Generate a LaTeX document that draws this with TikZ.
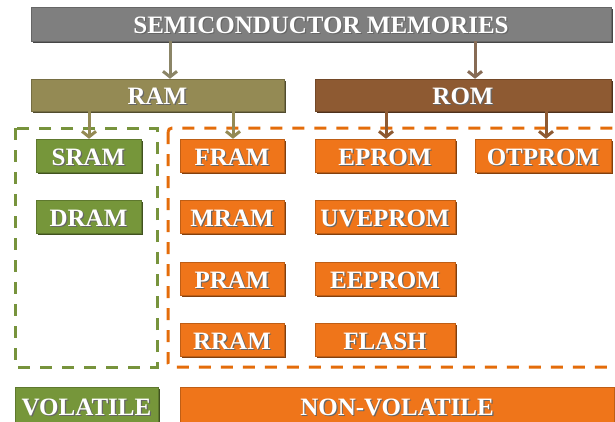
\documentclass[tikz,border=0pt]{standalone}
\usepackage{fontspec}
\setmainfont{Liberation Serif}
\usetikzlibrary{arrows.meta,shadows}
\definecolor{memgray}{RGB}{127,127,127}
\definecolor{ramolive}{RGB}{148,138,84}
\definecolor{rombrown}{RGB}{142,90,50}
\definecolor{nvorange}{RGB}{239,117,26}
\definecolor{volgreen}{RGB}{118,150,58}
\definecolor{dashgreen}{RGB}{119,147,60}
\definecolor{dashorange}{RGB}{228,108,10}
% white label with a soft dark drop shadow behind it
\newcommand\sh[1]{\makebox[0pt][l]{\kern1.2pt\smash{\raisebox{-1.2pt}{\color{black!60}#1}}}#1}
\begin{document}
\begin{tikzpicture}[x=1pt,y=-1pt,
  membox/.style={fill=#1, draw=#1!80!black, line width=0.5pt, text=white,
    font=\bfseries\fontsize{25}{25}\selectfont, inner sep=0pt,
    text height=19.5pt, text depth=0pt,
    drop shadow={shadow xshift=1.5pt, shadow yshift=-2pt, fill=#1!55!black, opacity=1}},
  arr/.style={draw=#1, line width=3pt, -{Straight Barb[length=5.5pt,width=14pt]}},
  zone/.style={draw=#1, line width=3pt, dash pattern=on 12pt off 10pt}]
\clip (0,0) rectangle (615,421);
\fill[white] (0,0) rectangle (615,421);

% dashed groupings
\draw[zone=dashgreen] (15,128) rectangle (157,367);
\draw[zone=dashorange, rounded corners=4pt] (168,128) rectangle (640,367);

% top levels
\node[membox=memgray, minimum width=580pt, minimum height=34pt] (top) at (321,24) {\sh{SEMICONDUCTOR MEMORIES}};
\node[membox=ramolive, minimum width=253pt, minimum height=32pt] (ram) at (157.5,95) {\sh{RAM}};
\node[membox=rombrown, minimum width=296pt, minimum height=32pt] (rom) at (463,95) {\sh{ROM}};

% volatile RAM
\node[membox=volgreen, minimum width=105pt, minimum height=33pt] (sram) at (88.5,155.5) {\sh{SRAM}};
\node[membox=volgreen, minimum width=105pt, minimum height=33pt] (dram) at (88.5,216.5) {\sh{DRAM}};

% non-volatile RAM
\node[membox=nvorange, minimum width=104pt, minimum height=33pt] (fram) at (232,155.5) {\sh{FRAM}};
\node[membox=nvorange, minimum width=104pt, minimum height=33pt] (mram) at (232,216.5) {\sh{MRAM}};
\node[membox=nvorange, minimum width=104pt, minimum height=33pt] (pram) at (232,278.5) {\sh{PRAM}};
\node[membox=nvorange, minimum width=104pt, minimum height=33pt] (rram) at (232,339.5) {\sh{RRAM}};

% ROM family
\node[membox=nvorange, minimum width=140pt, minimum height=33pt] (eprom) at (385,155.5) {\sh{EPROM}};
\node[membox=nvorange, minimum width=140pt, minimum height=33pt] (uveprom) at (385,216.5) {\sh{UVEPROM}};
\node[membox=nvorange, minimum width=140pt, minimum height=33pt] (eeprom) at (385,278.5) {\sh{EEPROM}};
\node[membox=nvorange, minimum width=140pt, minimum height=33pt] (flash) at (385,339.5) {\sh{FLASH}};
\node[membox=nvorange, minimum width=136pt, minimum height=33pt] (otprom) at (543,155.5) {\sh{OTPROM}};

% legend bars
\node[membox=volgreen, minimum width=143pt, minimum height=37pt] (vol) at (86.5,405.5) {\sh{VOLATILE}};
\node[membox=nvorange, minimum width=434pt, minimum height=37pt] (nonvol) at (397,405.5) {\sh{NON-VOLATILE}};

% connectors
\coordinate (t1) at (170,41);
\coordinate (t2) at (475,41);
\coordinate (r1) at (89,111);
\coordinate (r2) at (233,111);
\coordinate (o1) at (386,111);
\coordinate (o2) at (546,111);
\draw[arr=memgray!45!ramolive] (t1) -- (t1 |- ram.north);
\draw[arr=memgray!45!rombrown] (t2) -- (t2 |- rom.north);
\draw[arr=ramolive] (r1) -- (r1 |- sram.north);
\draw[arr=ramolive] (r2) -- (r2 |- fram.north);
\draw[arr=rombrown] (o1) -- (o1 |- eprom.north);
\draw[arr=rombrown] (o2) -- (o2 |- otprom.north);
\end{tikzpicture}
\end{document}
